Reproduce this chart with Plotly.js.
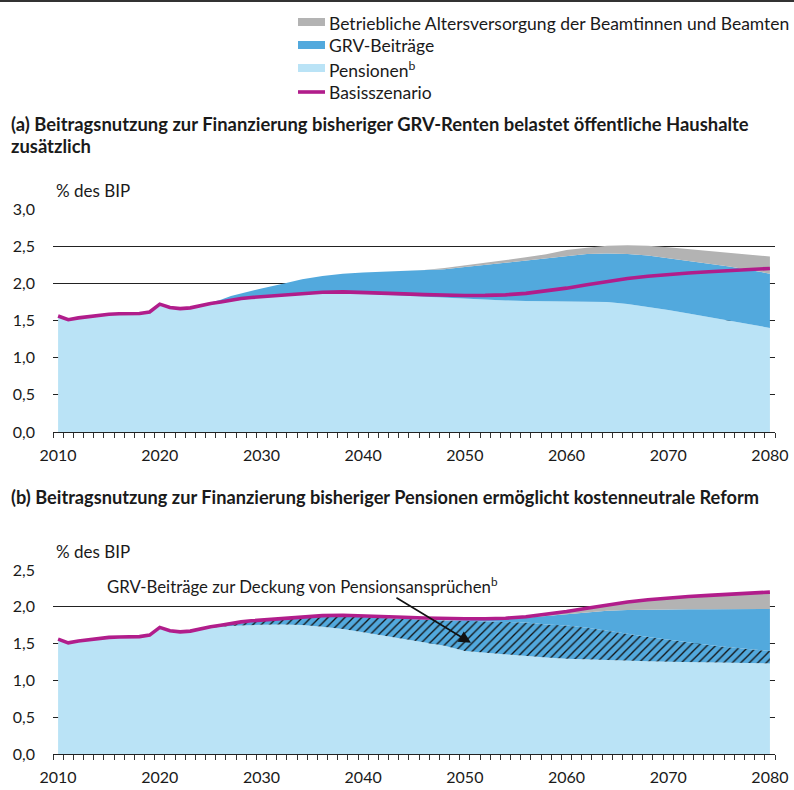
<!DOCTYPE html>
<html>
<head>
<meta charset="utf-8">
<script src="https://cdn.plot.ly/plotly-3.0.1.min.js"></script>
<style>html,body{margin:0;padding:0;background:#fff;}#chart{width:794px;height:790px;}</style>
</head>
<body>
<div id="chart"></div>
<script>
// ---- Data ----
const years = [2010,2011,2012,2013,2014,2015,2016,2017,2018,2019,2020,2021,2022,2023,2024,2025,2026,2027,2028,2029,
  2030,2032,2034,2036,2038,2040,2042,2044,2046,2048,2050,2052,2054,2056,2058,2060,2062,2064,2066,2068,2070,2072,2074,2076,2078,2080];

const basisszenario = [1.56,1.51,1.535,1.555,1.57,1.585,1.59,1.59,1.595,1.615,1.72,1.675,1.66,1.67,1.705,1.73,1.75,1.775,1.795,1.81,
  1.82,1.845,1.865,1.88,1.885,1.88,1.87,1.858,1.848,1.84,1.837,1.838,1.845,1.865,1.895,1.935,1.98,2.025,2.065,2.095,2.12,2.14,2.155,2.17,2.185,2.20];

// Panel (a)
const pensionenA = [1.56,1.51,1.535,1.555,1.57,1.585,1.59,1.59,1.595,1.615,1.72,1.675,1.66,1.67,1.705,1.72,1.74,1.76,1.78,1.795,
  1.805,1.83,1.85,1.862,1.865,1.86,1.848,1.835,1.82,1.805,1.792,1.78,1.77,1.763,1.76,1.76,1.757,1.748,1.722,1.684,1.64,1.595,1.55,1.50,1.45,1.40];
const grvA = [0,0,0,0,0,0,0,0,0,0,0,0,0,0,0,0.02,0.04,0.07,0.085,0.105,
  0.125,0.16,0.205,0.238,0.265,0.285,0.307,0.328,0.352,0.385,0.428,0.47,0.51,0.547,0.585,0.615,0.638,0.652,0.673,0.691,0.70,0.71,0.715,0.725,0.73,0.73];
const betrieblA = [0,0,0,0,0,0,0,0,0,0,0,0,0,0,0,0,0,0,0,0,
  0,0,0,0,0,0,0,0,0.008,0.015,0.02,0.02,0.03,0.04,0.045,0.075,0.085,0.105,0.117,0.13,0.145,0.155,0.165,0.175,0.20,0.23];

// Panel (b)
const pensionenB = [1.56,1.51,1.535,1.555,1.57,1.585,1.59,1.59,1.595,1.615,1.72,1.675,1.66,1.67,1.705,1.715,1.73,1.74,1.745,1.752,
  1.757,1.76,1.752,1.73,1.70,1.655,1.61,1.565,1.52,1.47,1.40,1.375,1.355,1.33,1.31,1.293,1.283,1.275,1.267,1.26,1.255,1.25,1.245,1.24,1.235,1.23];
const deckungB = [0,0,0,0,0,0,0,0,0,0,0,0,0,0,0,0.005,0.01,0.025,0.035,0.043,
  0.048,0.07,0.098,0.132,0.165,0.205,0.238,0.27,0.305,0.345,0.41,0.43,0.445,0.455,0.45,0.452,0.432,0.405,0.368,0.33,0.295,0.265,0.235,0.21,0.19,0.17];
const grvB = [0,0,0,0,0,0,0,0,0,0,0,0,0,0,0,0,0,0,0,0,
  0,0,0,0,0,0,0,0,0,0,0.01,0.02,0.035,0.065,0.115,0.16,0.215,0.265,0.32,0.372,0.416,0.452,0.488,0.52,0.545,0.57];
const betrieblB = [0,0,0,0,0,0,0,0,0,0,0,0,0,0,0,0,0,0,0,0,
  0,0,0,0,0,0,0,0,0,0,0,0.005,0.01,0.015,0.02,0.03,0.05,0.08,0.11,0.133,0.154,0.173,0.187,0.20,0.215,0.23];

const xLabels = [2010,2020,2030,2040,2050,2060,2070,2080];
const yTicksA = [0,0.5,1,1.5,2,2.5,3];
const yTicksB = [0,0.5,1,1.5,2,2.5];

const legendNames = ['Betriebliche Altersversorgung der Beamtinnen und Beamten', 'GRV-Beiträge', 'Pensionen<sup>b</sup>', 'Basisszenario'];

// ---- Styles ----
const FONT = 'Lato, "Open Sans", sans-serif';
const C_LIGHT = '#BAE3F6', C_BLUE = '#52A9DD', C_GRAY = '#B3B3B3', C_LINE = '#B11D8B', C_TXT = '#1a1a1a';
const legendColors = [C_GRAY, C_BLUE, C_LIGHT, C_LINE];
const minorVals = [];
for (let v = 2009.5; v <= 2080.5; v += 1) minorVals.push(v);

function area(y, name, color, xa, ya, grp, extra) {
  return Object.assign({
    type: 'scatter', mode: 'lines', x: years, y: y, name: name,
    xaxis: xa, yaxis: ya, stackgroup: grp, line: {width: 0, color: color},
    fillcolor: color, showlegend: false, hoverinfo: 'skip'
  }, extra || {});
}

const traces = [
  area(pensionenA, legendNames[2], C_LIGHT, 'x', 'y', 'a'),
  area(grvA, legendNames[1], C_BLUE, 'x', 'y', 'a'),
  area(betrieblA, legendNames[0], C_GRAY, 'x', 'y', 'a'),
  {type:'scatter', mode:'lines', x: years, y: basisszenario, name: legendNames[3], xaxis:'x', yaxis:'y',
   line:{color:C_LINE, width:3.6}, showlegend:false, hoverinfo:'skip'},

  area(pensionenB, legendNames[2], C_LIGHT, 'x2', 'y2', 'b'),
  area(deckungB, 'GRV-Beiträge zur Deckung von Pensionsansprüchen', C_BLUE, 'x2', 'y2', 'b',
       {fillpattern: {shape:'/', fgcolor:'#111111', bgcolor:C_BLUE, size:6, solidity:0.22}}),
  area(grvB, legendNames[1], C_BLUE, 'x2', 'y2', 'b'),
  area(betrieblB, legendNames[0], C_GRAY, 'x2', 'y2', 'b'),
  {type:'scatter', mode:'lines', x: years, y: basisszenario, name: legendNames[3], xaxis:'x2', yaxis:'y2',
   line:{color:C_LINE, width:3.6}, showlegend:false, hoverinfo:'skip'}
];

const W = 794, H = 790;
const xDom = [53/W, 775/W];
function xAxis(anchor) {
  return {
    domain: xDom, anchor: anchor, range: [2009.5, 2080.5], tickmode: 'array', tickvals: xLabels,
    ticks: '', showgrid: false, zeroline: false, showline: true, linecolor: '#222', linewidth: 1,
    ticklabelstandoff: 9, tickfont: {family: FONT, size: 16, color: C_TXT},
    minor: {tickmode: 'array', tickvals: minorVals, ticks: 'outside', ticklen: 5, tickwidth: 1, tickcolor: '#333', showgrid: false}
  };
}
function yAxis(anchor, dom, rng, vals) {
  return {
    domain: dom, anchor: anchor, range: rng, tickmode: 'array', tickvals: vals, tickformat: '.1f',
    ticks: '', showgrid: true, gridcolor: '#222', gridwidth: 1, zeroline: false, showline: false,
    ticklabelstandoff: 17, tickfont: {family: FONT, size: 16, color: C_TXT}
  };
}

// Legend drawn as paper-positioned key (rows at fixed pixel spacing as in the reference)
const legRows = [22, 45, 68, 92];
const legShapes = [], legAnns = [];
legendNames.forEach((nm, i) => {
  const yc = 1 - legRows[i] / H;
  if (i < 3) {
    legShapes.push({type:'rect', xref:'paper', yref:'paper', x0:298/W, x1:325/W, y0:yc - 4/H, y1:yc + 4/H,
                    fillcolor: legendColors[i], line:{width:0}});
  } else {
    legShapes.push({type:'line', xref:'paper', yref:'paper', x0:298/W, x1:325/W, y0:yc, y1:yc,
                    line:{color: legendColors[i], width:3.6}});
  }
  legAnns.push({xref:'paper', yref:'paper', x:327/W, y:1 - (legRows[i] + 1) / H, xanchor:'left', yanchor:'middle',
                showarrow:false, text: nm, font:{family:FONT, size:17.5, color:C_TXT}});
});

const layout = {
  width: W, height: H, margin: {l:0, r:0, t:0, b:0}, paper_bgcolor: '#fff', plot_bgcolor: 'rgba(0,0,0,0)',
  separators: ',.', font: {family: FONT, size: 16, color: C_TXT}, hovermode: false, showlegend: false,
  xaxis: xAxis('y'),
  yaxis: yAxis('x', [1-432/H, 1-209/H], [0, 3.0], yTicksA),
  xaxis2: xAxis('y2'),
  yaxis2: yAxis('x2', [1-754/H, 1-570/H], [0, 2.5], yTicksB),
  shapes: [
    {type:'line', xref:'paper', yref:'paper', x0:0, x1:1, y0:1-1/H, y1:1-1/H, line:{color:'#333', width:2}}
  ].concat(legShapes),
  annotations: [
    {xref:'paper', yref:'paper', x:9/W, y:1-124/H, xanchor:'left', yanchor:'middle', showarrow:false, align:'left',
     text:'<b>(a) Beitragsnutzung zur Finanzierung bisheriger GRV-Renten belastet öffentliche Haushalte</b>', font:{family:FONT, size:18.4, color:C_TXT}},
    {xref:'paper', yref:'paper', x:9/W, y:1-146/H, xanchor:'left', yanchor:'middle', showarrow:false, align:'left',
     text:'<b>zusätzlich</b>', font:{family:FONT, size:18.4, color:C_TXT}},
    {xref:'paper', yref:'paper', x:9/W, y:1-497/H, xanchor:'left', yanchor:'middle', showarrow:false, align:'left',
     text:'<b>(b) Beitragsnutzung zur Finanzierung bisheriger Pensionen ermöglicht kostenneutrale Reform</b>', font:{family:FONT, size:18.2, color:C_TXT}},
    {xref:'paper', yref:'paper', x:54/W, y:1-191/H, xanchor:'left', yanchor:'middle', showarrow:false,
     text:'% des BIP', font:{family:FONT, size:17, color:C_TXT}},
    {xref:'paper', yref:'paper', x:54/W, y:1-551/H, xanchor:'left', yanchor:'middle', showarrow:false,
     text:'% des BIP', font:{family:FONT, size:17, color:C_TXT}},
    {xref:'paper', yref:'paper', x:105/W, y:1-585/H, xanchor:'left', yanchor:'middle', showarrow:false,
     text:'GRV-Beiträge zur Deckung von Pensionsansprüchen<sup>b</sup>', font:{family:FONT, size:16.8, color:C_TXT}},
    {xref:'x2', yref:'y2', x:2050.6, y:1.51, text:'', showarrow:true, arrowhead:2, arrowsize:1.5, arrowwidth:1.6,
     arrowcolor:'#111', ax:-76, ay:-46, standoff:0}
  ].concat(legAnns)
};

Plotly.newPlot('chart', traces, layout, {staticPlot: true, displayModeBar: false});
</script>
</body>
</html>
